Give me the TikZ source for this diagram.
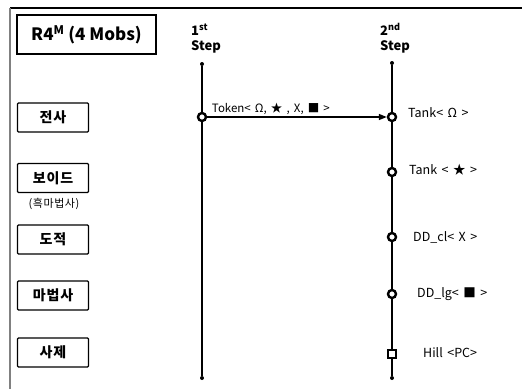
\documentclass[tikz,border=0pt]{standalone}
\usepackage{fontspec}
\setmainfont{Noto Sans CJK KR}
\newfontfamily\tokenfont[WordSpace=2.8]{Noto Sans CJK KR}
\newfontfamily\lblfont[WordSpace=1.6]{Noto Sans CJK KR}
\usetikzlibrary{arrows.meta}
\tikzset{
  mob/.style={draw,line width=1.4pt,rounded corners=1pt,minimum width=71pt,minimum height=29pt,
    font=\bfseries\fontsize{14}{16}\selectfont\addfontfeature{LetterSpace=6}},
  hit/.style={circle,draw,line width=2.4pt,fill=white,inner sep=0pt,minimum size=8pt},
  hitsq/.style={rectangle,draw,line width=2.4pt,fill=white,inner sep=0pt,minimum size=7.5pt},
  tip/.style={circle,fill,inner sep=0pt,minimum size=4pt},
  lbl/.style={anchor=west,inner sep=0pt,font=\lblfont\fontsize{12.5}{14}\selectfont},
  steplbl/.style={anchor=south west,align=left,inner sep=0pt,font=\bfseries\fontsize{13}{15}\selectfont},
}
\begin{document}
\begin{tikzpicture}[x=1pt,y=-1pt]
\useasboundingbox (0,0) rectangle (522,389);
% frame
\draw[line width=1.2pt] (10,8) -- (522,8);
\draw[gray,line width=1.8pt] (10,8) -- (10,389);

\node[draw,line width=1.4pt,minimum width=139pt,minimum height=39pt,
  font=\bfseries\fontsize{17}{19}\selectfont] (title) at (86.5,34.5) {R4\textsuperscript{M} (4 Mobs)};

% mobs
\node[mob] (m1) at (53,117.5) {전사};
\node[mob] (m2) at (53,178) {보이드};
\node[font=\fontsize{11}{13}\selectfont\addfontfeature{LetterSpace=5}] (m2sub) at (54,204) {(흑마법사)};
\node[mob] (m3) at (53,239.5) {도적};
\node[mob] (m4) at (53,295.5) {마법사};
\node[mob] (m5) at (53,352.5) {사제};

% steps
\node[steplbl] (s1) at (191,53) {1\textsuperscript{st}\\Step};
\node[steplbl] (s2) at (380,53) {2\textsuperscript{nd}\\Step};

\node[tip] (a0) at (202,64) {};
\node[tip] (a1) at (202,378) {};
\node[tip] (b0) at (392,63) {};
\node[tip] (b1) at (392,378) {};
\draw[line width=2pt] (a0) -- (a1);
\draw[line width=1.3pt] (b0) -- (b1);

\node[hit] (t0) at (202,117) {};
\node[hit] (h1) at (392,117) {};
\node[hit] (h2) at (392,172) {};
\node[hit] (h3) at (392,237) {};
\node[hit] (h4) at (392,294) {};
\node[hitsq] (h5) at (392,354) {};

\draw (t0) edge[-{Triangle[length=8pt,width=6pt]},line width=1.5pt]
  node[pos=0,anchor=south west,inner sep=2pt,xshift=2pt,
    font=\tokenfont\fontsize{11.5}{13}\selectfont]{Token< Ω, ★ , X, ■ >} (h1);

\node[lbl] (l1) at (408,113) {Tank< Ω >};
\node[lbl] (l2) at (409,170) {Tank < ★ >};
\node[lbl] (l3) at (413,237) {DD\_cl< X >};
\node[lbl] (l4) at (417,294) {DD\_lg< ■ >};
\node[lbl] (l5) at (423,353) {Hill <PC>};
\end{tikzpicture}
\end{document}
